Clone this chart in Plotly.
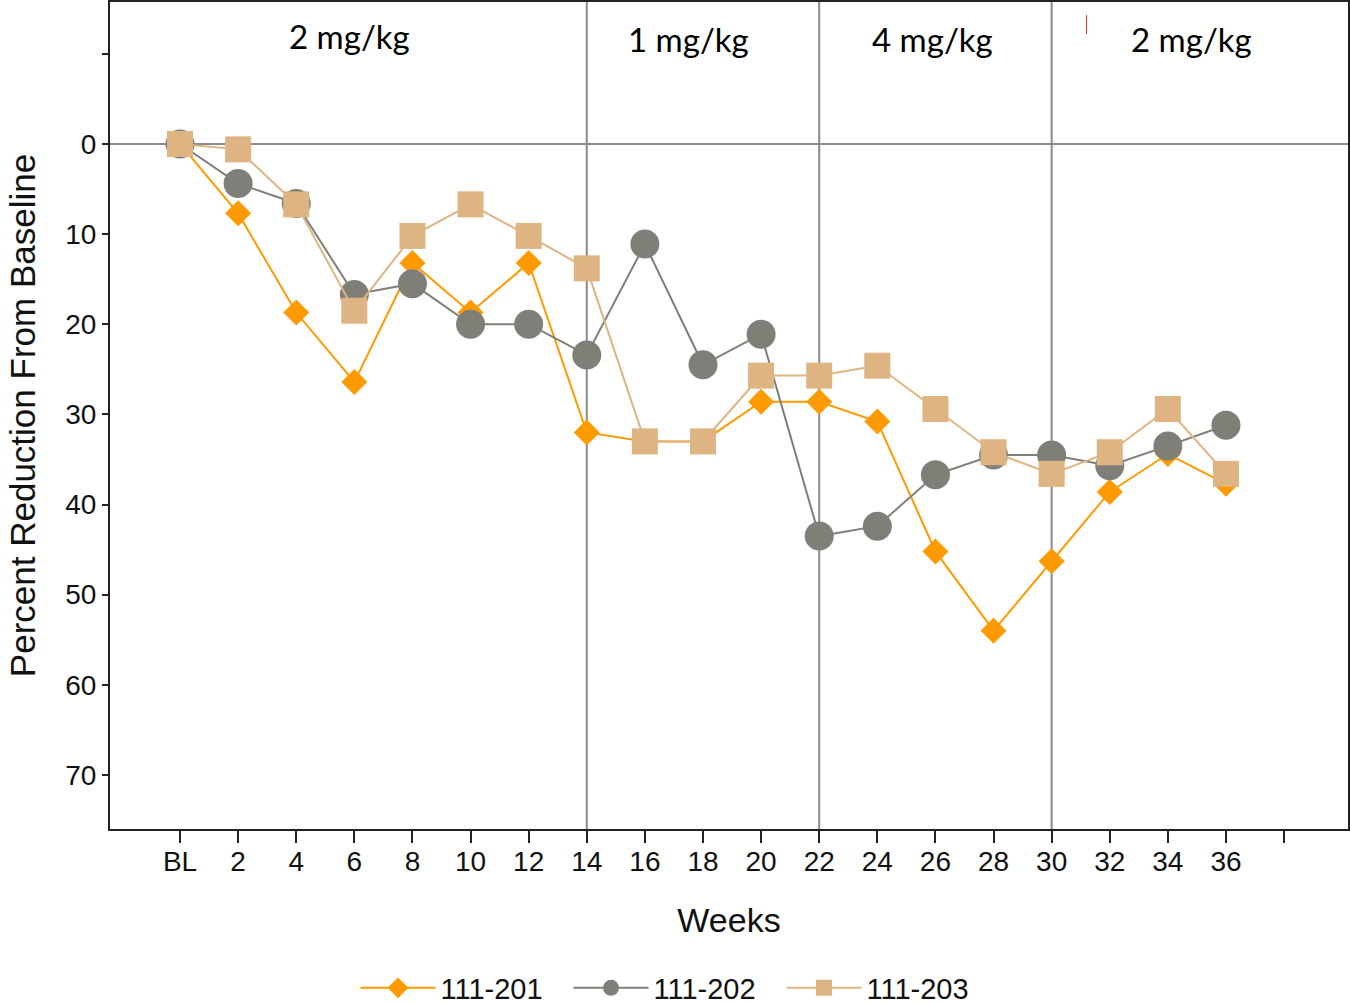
import plotly.graph_objects as go

weeks = [0, 2, 4, 6, 8, 10, 12, 14, 16, 18, 20, 22, 24, 26, 28, 30, 32, 34, 36]
s201 = [0, 7.7, 18.7, 26.4, 13.2, 18.7, 13.2, 32.0, 33.0, 33.0, 28.6, 28.6, 30.8, 45.2, 54.0, 46.3, 38.6, 34.4, 37.7]
s202 = [0, 4.4, 6.6, 16.7, 15.5, 20.0, 20.0, 23.4, 11.1, 24.5, 21.1, 43.5, 42.4, 36.7, 34.5, 34.5, 35.7, 33.5, 31.2]
s203 = [0, 0.6, 6.7, 18.5, 10.2, 6.7, 10.2, 13.8, 33.0, 33.0, 25.7, 25.7, 24.6, 29.4, 34.2, 36.6, 34.2, 29.4, 36.6]

xtick_vals = [0, 2, 4, 6, 8, 10, 12, 14, 16, 18, 20, 22, 24, 26, 28, 30, 32, 34, 36, 38]
xtick_text = ["BL", "2", "4", "6", "8", "10", "12", "14", "16", "18", "20", "22", "24", "26", "28", "30", "32", "34", "36", ""]
ytick_vals = [-10, 0, 10, 20, 30, 40, 50, 60, 70]
ytick_text = ["", "0", "10", "20", "30", "40", "50", "60", "70"]

phase_bounds = [14, 22, 30]
dose_labels = ["2 mg/kg", "1 mg/kg", "4 mg/kg", "2 mg/kg"]
dose_x = [5.85, 17.5, 25.9, 34.8]
dose_y = [-12.0, -11.6, -11.6, -11.6]

C201 = "#FF9A00"
C202 = "#7F7F78"
C203 = "#DEB483"

fig = go.Figure()
fig.add_trace(go.Scatter(x=weeks, y=s201, name="111-201", mode="lines+markers",
                         line=dict(color=C201, width=2),
                         marker=dict(symbol="diamond", size=20, color=C201)))
fig.add_trace(go.Scatter(x=weeks, y=s202, name="111-202", mode="lines+markers",
                         line=dict(color=C202, width=2),
                         marker=dict(symbol="circle", size=29, color=C202)))
fig.add_trace(go.Scatter(x=weeks, y=s203, name="111-203", mode="lines+markers",
                         line=dict(color=C203, width=2),
                         marker=dict(symbol="square", size=26, color=C203)))

shapes = []
for xb in phase_bounds:
    shapes.append(dict(type="line", xref="x", yref="paper", x0=xb, x1=xb, y0=0, y1=1,
                       line=dict(color="#8a8a8a", width=2), layer="below"))
shapes.append(dict(type="line", xref="paper", yref="y", x0=0, x1=1, y0=0, y1=0,
                   line=dict(color="#8a8a8a", width=2), layer="below"))
# small red mark near the last dose label
shapes.append(dict(type="line", xref="x", yref="y", x0=31.2, x1=31.2, y0=-14.3, y1=-12.2,
                   line=dict(color="#d04020", width=1)))

annotations = []
for t, xx, yy in zip(dose_labels, dose_x, dose_y):
    annotations.append(dict(text=t, x=xx, y=yy, xref="x", yref="y", showarrow=False,
                            font=dict(family="Lato", size=33, color="black")))

fig.update_layout(
    width=1350, height=1004,
    margin=dict(l=110, r=2, t=2, b=175, autoexpand=False),
    paper_bgcolor="white", plot_bgcolor="white",
    font=dict(family="Liberation Sans", color="#111"),
    shapes=shapes, annotations=annotations,
    showlegend=True,
    legend=dict(orientation="h", x=0.5, xanchor="center", xref="container",
                y=0.016, yanchor="middle", yref="container",
                font=dict(size=29, family="Liberation Sans"), itemwidth=75,
                entrywidth=123, entrywidthmode="pixels", tracegroupgap=0),
)
fig.update_xaxes(range=[-2.41, 40.2], tickvals=xtick_vals, ticktext=xtick_text,
                 tickfont=dict(size=28), ticks="outside", ticklen=12, tickwidth=2, tickcolor="#222",
                 ticklabelstandoff=-6,
                 showline=True, linecolor="#222", linewidth=2, mirror=True,
                 showgrid=False, zeroline=False, automargin=False,
                 title=dict(text="Weeks", font=dict(size=34), standoff=33))
fig.update_yaxes(range=[76.0, -15.75], tickvals=ytick_vals, ticktext=ytick_text,
                 tickfont=dict(size=28), ticks="outside", ticklen=6, tickwidth=2, tickcolor="#222",
                 showline=True, linecolor="#222", linewidth=2, mirror=True,
                 showgrid=False, zeroline=False, automargin=False,
                 title=dict(text="Percent Reduction From Baseline", font=dict(size=35), standoff=19))

fig.write_html("out.html")
